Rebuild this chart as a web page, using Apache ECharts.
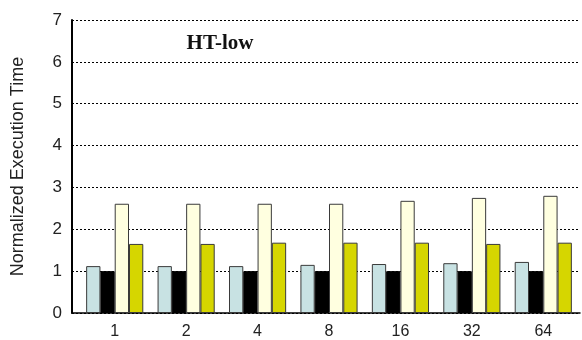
<!DOCTYPE html>
<html>
<head>
<meta charset="utf-8">
<script src="https://cdn.jsdelivr.net/npm/echarts@6/dist/echarts.min.js"></script>
<style>
  html, body { margin: 0; padding: 0; background: #fff; }
  #chart { width: 582px; height: 340px; }
</style>
</head>
<body>
<div id="chart"></div>
<script>
// Thread counts along the x axis
const categories = ['1', '2', '4', '8', '16', '32', '64'];
// Normalized execution time per configuration
const seriesA = [1.12, 1.12, 1.12, 1.15, 1.17, 1.19, 1.22];
const seriesB = [1.0, 1.0, 1.0, 1.0, 1.0, 1.0, 1.0];
const seriesC = [2.61, 2.61, 2.61, 2.61, 2.68, 2.75, 2.80];
const seriesD = [1.65, 1.65, 1.68, 1.68, 1.68, 1.65, 1.68];
const yTicks = [0, 1, 2, 3, 4, 5, 6, 7];

const chart = echarts.init(document.getElementById('chart'), null, { renderer: 'canvas' });

const fontFam = '"Liberation Sans", Arial, sans-serif';
const barBorder = '#3a3a3a';

function bar(name, data, color, border) {
  return {
    name, type: 'bar', data,
    xAxisIndex: 1, yAxisIndex: 1,
    barGap: '0%', barCategoryGap: '20%',
    itemStyle: { color, borderColor: border, borderWidth: 1 },
    animation: false
  };
}

chart.setOption({
  backgroundColor: '#fff',
  animation: false,
  title: {
    text: 'HT-low',
    left: 215, top: 28, textAlign: 'center',
    textStyle: { fontFamily: '"Liberation Serif", "Times New Roman", serif', fontWeight: 'bold', fontSize: 21, color: '#111' }
  },
  grid: [
    { left: 72, right: 2, top: 20, bottom: 27 },
    { left: 79, right: 3, top: 20, bottom: 27 }
  ],
  xAxis: [
    {
      // frame axis: draws only the baseline along the bottom of the plot
      gridIndex: 0, type: 'value', min: 0, max: 1, interval: 1,
      axisLine: { show: true, onZero: false, lineStyle: { color: '#000', width: 1.5 } },
      axisTick: { show: false }, axisLabel: { show: false },
      splitLine: { show: false }
    },
    {
      gridIndex: 1, type: 'category', data: categories,
      axisLine: { show: false }, axisTick: { show: false },
      axisLabel: { margin: 11, fontSize: 16, color: '#222', fontFamily: fontFam }
    }
  ],
  yAxis: [
    {
      gridIndex: 0, type: 'value', min: yTicks[0], max: yTicks[yTicks.length - 1], interval: 1,
      name: 'Normalized Execution Time', nameLocation: 'middle', nameGap: 45,
      nameTextStyle: { fontSize: 18, color: '#222', fontFamily: fontFam },
      axisLine: { show: true, onZero: false, lineStyle: { color: '#000', width: 2 } },
      axisTick: { show: false },
      axisLabel: { margin: 10, fontSize: 17, color: '#222', fontFamily: fontFam },
      splitLine: { show: true, lineStyle: { color: '#000', width: 1, type: [2, 2] } }
    },
    {
      gridIndex: 1, type: 'value', min: yTicks[0], max: yTicks[yTicks.length - 1], interval: 1,
      show: false, splitLine: { show: false }
    }
  ],
  series: [
    bar('A', seriesA, '#c8e2e3', barBorder),
    bar('B', seriesB, '#000000', '#000000'),
    bar('C', seriesC, '#ffffe0', barBorder),
    bar('D', seriesD, '#d6d600', barBorder)
  ]
});
</script>
</body>
</html>
